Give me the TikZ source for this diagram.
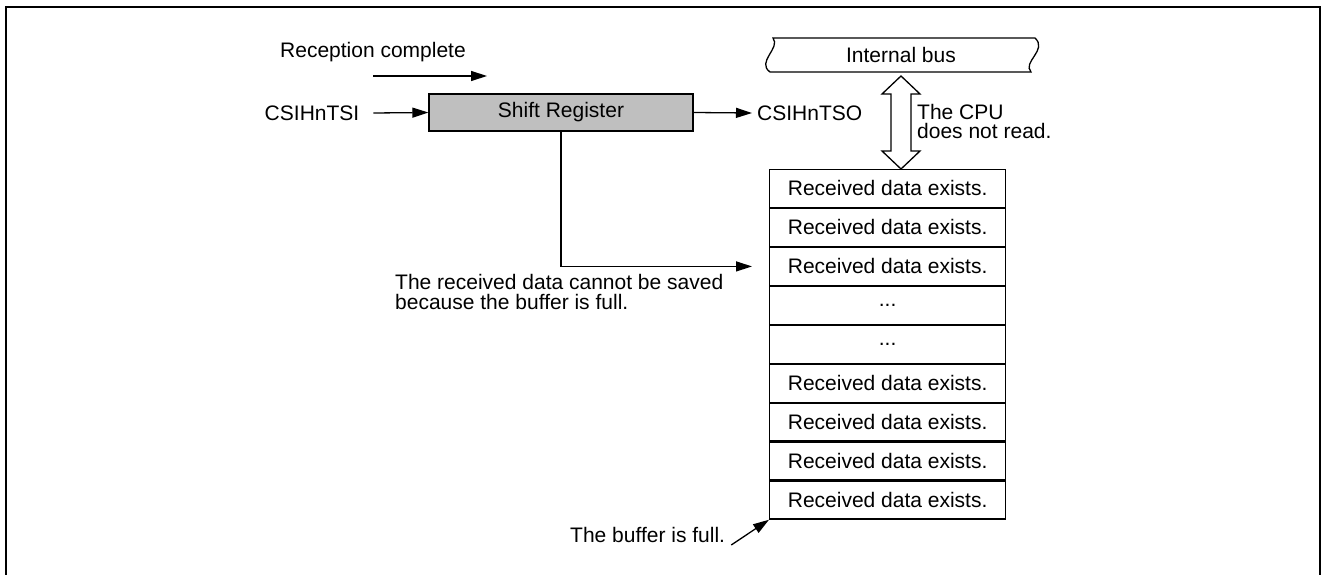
\documentclass[tikz,border=0pt]{standalone}
\usepackage{fontspec}
\setmainfont{Liberation Sans}
\usetikzlibrary{arrows.meta,calc}
\begin{document}
\begin{tikzpicture}[x=1pt,y=-1pt,
  txt/.style={inner sep=0pt,font=\fontsize{21}{20}\selectfont},
  conn/.style={line width=1.3pt,-{Triangle[length=16pt,width=10pt]}},
  boxline/.style={line width=1.3pt},
  row/.style={draw,line width=1.3pt,minimum width=236pt,minimum height=37.67pt,inner sep=0pt,font=\fontsize{21}{20}\selectfont,anchor=north west}]
\useasboundingbox (0,0) rectangle (1322,575);
% frame
\draw[line width=2pt] (6,575) -- (6,7) -- (1320,7) -- (1320,575);
% shift register
\node[draw,boxline,fill=black!25,minimum width=264pt,minimum height=37pt,inner sep=0pt,font=\fontsize{21}{20}\selectfont] (shift) at (561,112.5) {Shift Register};
\node[txt] (tsi) at (312,113) {CSIHnTSI};
\draw[conn] ([xshift=14pt]tsi.east) -- (shift.west);
% reception complete
\node[txt,anchor=west] (rc) at (280,52) {Reception complete};
\coordinate (rcA) at (373,76);
\coordinate (rcB) at (487,76);
\draw[conn] (rcA) -- (rcB);
% CSIHnTSO
\node[txt,anchor=west] (tso) at (757,113) {CSIHnTSO};
\draw[conn] (shift.east) -- ([xshift=-5pt]tso.west);
% internal bus
\draw[boxline,fill=white] (773,38) -- (1035,38) .. controls (1048,50) and (1022,62) .. (1031,72) -- (770,72) .. controls (756,62) and (781,48) .. cycle;
\node[txt] (bus) at (901,55) {Internal bus};
% double hollow arrow
\draw[boxline,fill=white] (901,76) -- (920,94) -- (911,94) -- (911,151) -- (920,151) -- (901,169) -- (882,151) -- (891,151) -- (891,94) -- (882,94) -- cycle;
\node[txt,anchor=west,align=left,font=\fontsize{21}{19}\selectfont] (cpu) at (917,121) {The CPU\\does not read.};
% buffer
\node[row] (r1) at (769,169) {Received data exists.};
\node[row] (r2) at (r1.south west) {Received data exists.};
\node[row] (r3) at (r2.south west) {Received data exists.};
\node[row] (r4) at (r3.south west) {...};
\node[row] (r5) at (r4.south west) {...};
\node[row] (r6) at (r5.south west) {Received data exists.};
\node[row] (r7) at (r6.south west) {Received data exists.};
\node[row] (r8) at (r7.south west) {Received data exists.};
\node[row] (r9) at (r8.south west) {Received data exists.};
% save arrow
\draw[conn] (shift.south) |- ([xshift=-17pt]r3.west);
\node[txt,anchor=west,align=left] (nosave) at (395,292) {The received data cannot be saved\\because the buffer is full.};
% buffer full
\node[txt,anchor=west] (full) at (570,535) {The buffer is full.};
\draw[conn] ([xshift=6pt,yshift=-10pt]full.east) -- (r9.south west);
\end{tikzpicture}
\end{document}
